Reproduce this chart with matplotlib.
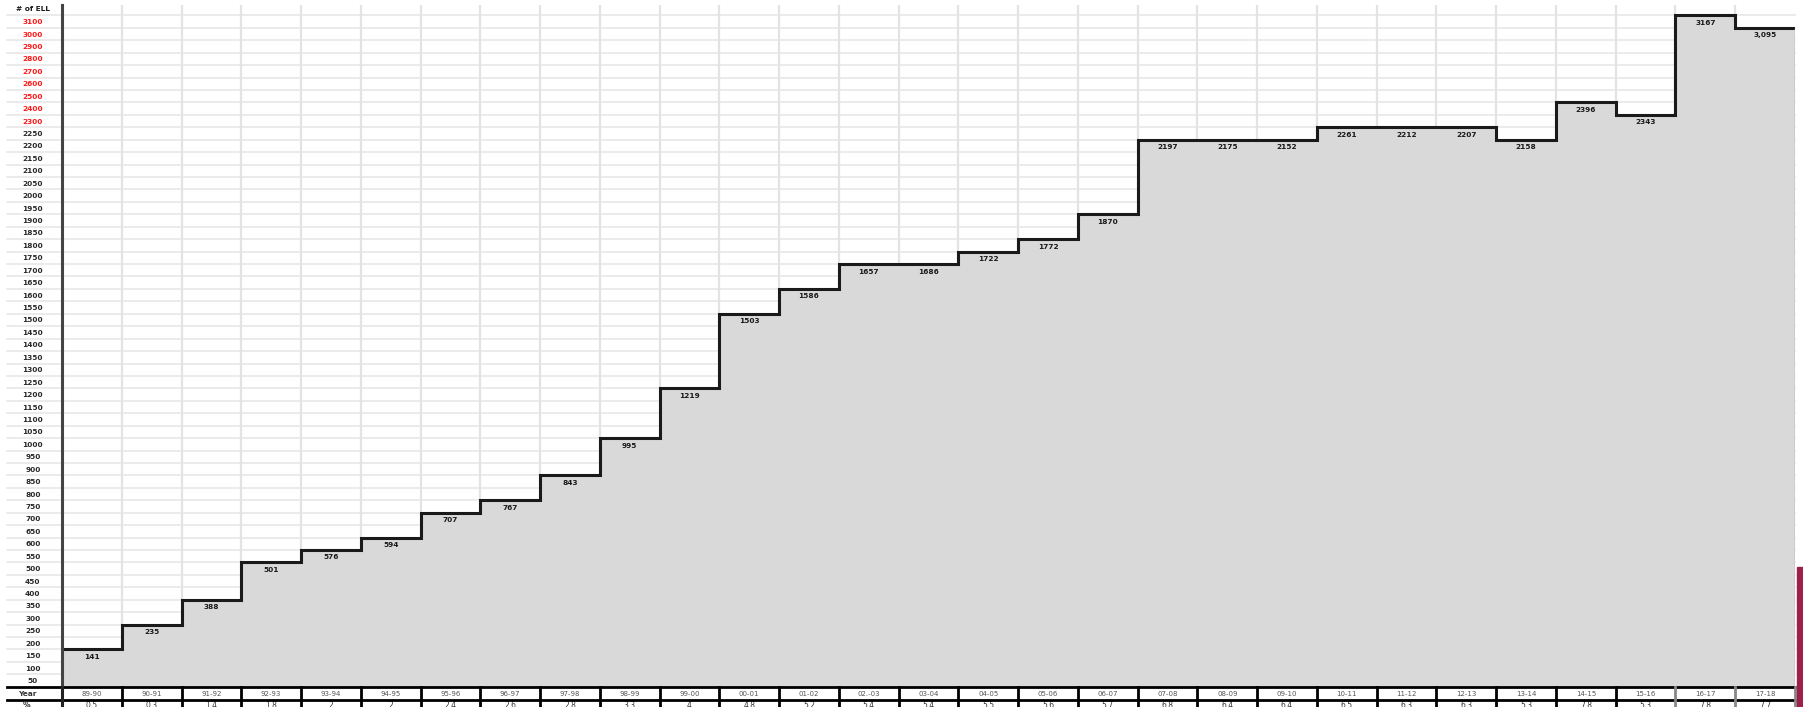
import numpy as np
import matplotlib
matplotlib.use("Agg")
import matplotlib.pyplot as plt
import matplotlib.transforms as mtransforms

# school years and ELL counts
years = ['89-90', '90-91', '91-92', '92-93', '93-94', '94-95', '95-96', '96-97', '97-98',
         '98-99', '99-00', '00-01', '01-02', '02.-03', '03-04', '04-05', '05-06', '06-07',
         '07-08', '08-09', '09-10', '10-11', '11-12', '12-13', '13-14', '14-15', '15-16',
         '16-17', '17-18']
ell_labels = ['141', '235', '388', '501', '576', '594', '707', '767', '843', '995', '1219',
              '1503', '1586', '1657', '1686', '1722', '1772', '1870', '2197', '2175', '2152',
              '2261', '2212', '2207', '2158', '2396', '2343', '3167', '3,095']
# height of each step as drawn on the chart's own grid
step_level = [150, 250, 350, 500, 550, 600, 700, 750, 850, 1000, 1200, 1500, 1600, 1700,
              1700, 1750, 1800, 1900, 2200, 2200, 2200, 2250, 2250, 2250, 2200, 2400, 2300,
              3100, 3000]
pct = ['0.5', '0.3', '1.4', '1.8', '2', '2', '2.4', '2.6', '2.8', '3.3', '4', '4.8', '5.2',
       '5.4', '5.4', '5.5', '5.6', '5.7', '6.8', '6.4', '6.4', '6.5', '6.3', '6.3', '5.3',
       '7.8', '5.3', '7.8', '7.7']
y_marks = list(range(50, 2251, 50)) + list(range(2300, 3101, 100))


# grid rows: 50 per row up to 2300, then 100 per row
def fwd(v):
    v = np.asarray(v, dtype=float)
    return np.where(v <= 2300, v / 50, 46 + (v - 2300) / 100)


def inv(r):
    r = np.asarray(r, dtype=float)
    return np.where(r <= 46, r * 50, 2300 + (r - 46) * 100)


W, H = 1803, 707
fig = plt.figure(figsize=(W / 100, H / 100), dpi=100)
x0, x1, y_top, y_base = 62, 1795, 5, 686.7
ax = fig.add_axes([x0 / W, (H - y_base) / H, (x1 - x0) / W, (y_base - y_top) / H])
ax.set_yscale('function', functions=(fwd, inv))
n = len(years)
ax.set_xlim(0, n)
ax.set_ylim(0, float(inv(fwd(3100) + 0.84)))

for s in ['top', 'right', 'bottom']:
    ax.spines[s].set_visible(False)
ax.spines['left'].set_color('#444444')
ax.spines['left'].set_linewidth(2.2)
ax.spines['left'].set_zorder(6)

# horizontal grid running into the label column
trans_hy = mtransforms.blended_transform_factory(ax.transAxes, ax.transData)
gl_left = (7 - x0) / (x1 - x0)
for v in y_marks:
    ax.plot([gl_left, 1], [v, v], color='#e6e6e6', lw=1.1, transform=trans_hy,
            clip_on=False, zorder=0)
for i in range(1, n):
    ax.axvline(i, color='#e3e3e3', lw=1.6, zorder=0)

edges = np.arange(n + 1)
ax.stairs(step_level, edges, baseline=0, fill=True, color='#d9d9d9', zorder=2)
ax.stairs(step_level, edges, baseline=None, color='#1a1a1a', lw=2.2, zorder=4)
ax.plot([n, n], [0, step_level[-1]], color='#9a9a9a', lw=1, zorder=4)

for i, (lab, lv) in enumerate(zip(ell_labels, step_level)):
    ax.annotate(lab, (i + 0.5, lv), xytext=(0, -3.2), textcoords='offset points',
                ha='center', va='top', fontsize=5.3, fontweight='bold', color='#1a1a1a',
                zorder=5)

# y tick labels centred in each band
tick_pos = inv(fwd(y_marks) - 0.5)
ax.set_yticks(tick_pos)
ax.set_yticklabels([str(v) for v in y_marks])
ax.yaxis.set_minor_locator(matplotlib.ticker.NullLocator())
ax.tick_params(axis='y', length=0, pad=21)
for t, v in zip(ax.get_yticklabels(), y_marks):
    t.set_horizontalalignment('center')
    t.set_fontsize(5.3)
    t.set_fontweight('bold')
    t.set_color('#ff1a1a' if v > 2250 else '#2a2a2a')
ax.set_xticks([])
fig.text(33 / W, 1 - 9 / H, '# of ELL', ha='center', va='center', fontsize=5.3,
         fontweight='bold', color='#1a1a1a')

# table under the chart
ah = y_base - y_top
def ay(px):
    return -(px - y_base) / ah

trans_ty = mtransforms.blended_transform_factory(ax.transData, ax.transAxes)
ax.plot([gl_left, 1], [0, 0], color='black', lw=2, transform=ax.transAxes, clip_on=False, zorder=7)
ax.plot([gl_left, 1], [ay(700), ay(700)], color='black', lw=2, transform=ax.transAxes,
        clip_on=False, zorder=7)
ax.plot([0, 0], [0, ay(H + 2)], color='#222222', lw=2.2, transform=trans_ty, clip_on=False, zorder=7)
for i in range(1, n + 1):
    c = '#888888' if i >= n - 2 else 'black'
    ax.plot([i, i], [0, ay(H + 2)], color=c, lw=2, transform=trans_ty, clip_on=False, zorder=7)
for i in range(n):
    ax.text(i + 0.5, ay(693.5), years[i], ha='center', va='center', fontsize=5,
            color='#555555', transform=trans_ty, clip_on=False)
    ax.text(i + 0.5, ay(706), pct[i], ha='center', va='center', fontsize=5.5,
            color='#333333', transform=trans_ty, clip_on=False)
fig.text(27 / W, 1 - 693.5 / H, 'Year', ha='center', va='center', fontsize=5.3,
         fontweight='bold', color='#333333')
fig.text(27 / W, 1 - 706 / H, '%', ha='center', va='center', fontsize=5.5,
         fontweight='bold', color='#333333')

# maroon edge strip at the right
fig.patches.append(plt.Rectangle((1797 / W, 0), 6 / W, (H - 567) / H, transform=fig.transFigure,
                                 color='#9b2148', zorder=10))

fig.savefig('out.png', dpi=100)
